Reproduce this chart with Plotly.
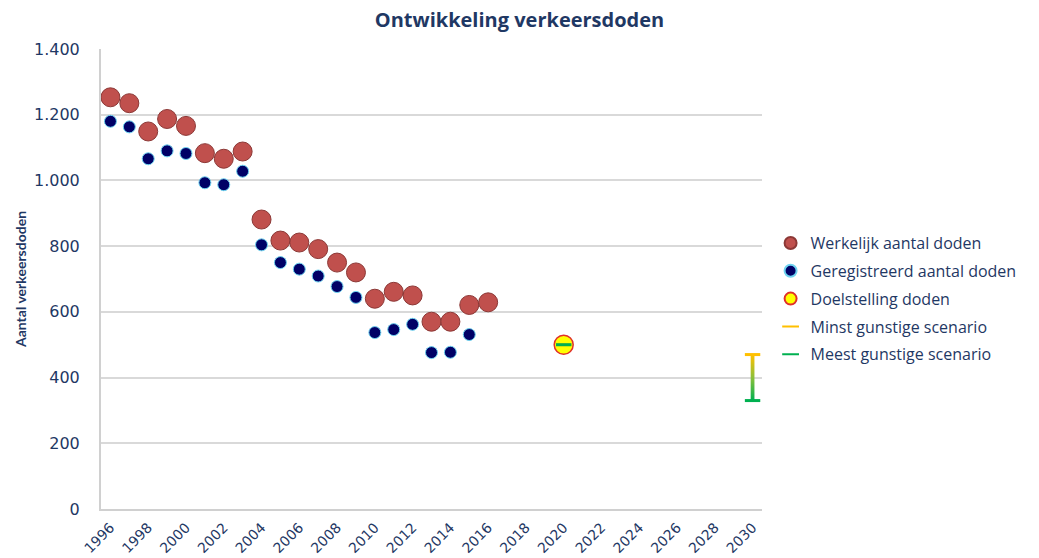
import plotly.graph_objects as go

years_actual = list(range(1996, 2017))
werkelijk = [1253, 1235, 1149, 1187, 1166, 1083, 1066, 1088, 881, 817, 811, 791,
             750, 720, 640, 661, 650, 570, 570, 621, 629]
years_reg = list(range(1996, 2016))
geregistreerd = [1180, 1163, 1066, 1090, 1082, 993, 987, 1028, 804, 750, 730, 709,
                 677, 644, 537, 546, 562, 476, 477, 531]
doel_years = [2020]
doel_values = [500]
scen_years = [2020, 2030]
minst_gunstig = [500, 470]
meest_gunstig = [500, 330]
tick_years = list(range(1996, 2031, 2))

NAVY = "#1F3864"
fig = go.Figure()

# gradient stem between scenarios for 2030
w = 0.1
x0 = scen_years[-1]
lo, hi = meest_gunstig[-1], minst_gunstig[-1]
fig.add_trace(go.Scatter(
    x=[x0 - w, x0 + w, x0 + w, x0 - w, x0 - w],
    y=[lo, lo, hi, hi, lo],
    mode="lines", line=dict(width=0), fill="toself",
    fillgradient=dict(type="vertical",
                      colorscale=[[0, "#00B050"], [0.5, "#8CC03A"], [1, "#FFC000"]]),
    showlegend=False, hoverinfo="skip"))

fig.add_trace(go.Scatter(
    x=years_actual, y=werkelijk, mode="markers", name="Werkelijk aantal doden",
    legendgroup="a",
    marker=dict(size=19, color="#C0504D", line=dict(color="#8C3836", width=1))))
fig.add_trace(go.Scatter(
    x=years_reg, y=geregistreerd, mode="markers", name="Geregistreerd aantal doden",
    legendgroup="b",
    marker=dict(size=12, color="#000066", line=dict(color="#6FD3F0", width=1))))
fig.add_trace(go.Scatter(
    x=doel_years, y=doel_values, mode="markers", name="Doelstelling doden",
    legendgroup="c",
    marker=dict(size=19, color="#FFFF00", line=dict(color="#E0302A", width=1.5))))
fig.add_trace(go.Scatter(
    x=scen_years, y=minst_gunstig, mode="markers", name="Minst gunstige scenario",
    legendgroup="d",
    marker=dict(symbol="line-ew", size=11, color="#FFC000",
                line=dict(color="#FFC000", width=3))))
fig.add_trace(go.Scatter(
    x=scen_years, y=meest_gunstig, mode="markers", name="Meest gunstige scenario",
    legendgroup="e",
    marker=dict(symbol="line-ew", size=11, color="#00B050",
                line=dict(color="#00B050", width=3))))

fig.update_layout(
    width=1039, height=558,
    margin=dict(l=101, r=277, t=49, b=49),
    paper_bgcolor="white", plot_bgcolor="white",
    separators=",.",
    font=dict(family="DejaVu Sans", color=NAVY, size=14),
    title=dict(text="<b>Ontwikkeling verkeersdoden</b>", x=0.5, xanchor="center",
               y=0.965, yanchor="middle",
               font=dict(family="Open Sans", size=20, color=NAVY)),
    legend=dict(x=1.013, y=0.615, xanchor="left", yanchor="top",
                font=dict(family="Open Sans", size=16, color=NAVY),
                bgcolor="rgba(0,0,0,0)", itemsizing="constant",
                tracegroupgap=4),
    xaxis=dict(range=[1995.5, 2030.5], tickmode="array", tickvals=tick_years,
               ticktext=[str(t) for t in tick_years], tickangle=-45,
               showgrid=False, zeroline=False, showline=True, automargin=False,
               linecolor="#D0D0D0", linewidth=2, ticks="", ticklabelstandoff=3,
               tickfont=dict(family="DejaVu Sans", size=14, color=NAVY)),
    yaxis=dict(range=[0, 1400], dtick=200, tickformat=",d", automargin=False,
               showgrid=True, gridcolor="#D9D9D9", gridwidth=1.5,
               zeroline=False, showline=True, linecolor="#D0D0D0", linewidth=2,
               ticks="", ticklen=0, ticklabelstandoff=16,
               tickfont=dict(family="DejaVu Sans", size=16, color=NAVY),
               title=dict(text="<b>Aantal verkeersdoden</b>", standoff=4,
                          font=dict(family="Lato", size=14, color=NAVY))),
)

fig.write_html("out.html", config={"displayModeBar": False},
               post_script="document.body.style.margin='0';document.body.style.padding='0';")
